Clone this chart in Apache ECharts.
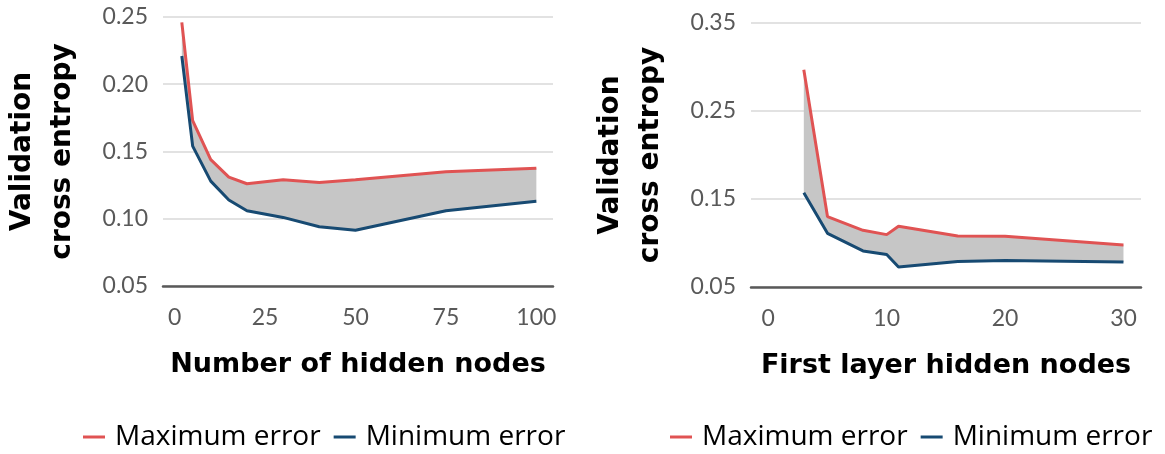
<!DOCTYPE html>
<html>
<head>
<meta charset="utf-8">
<script src="https://cdn.jsdelivr.net/npm/echarts@6/dist/echarts.min.js"></script>
<style>
html,body{margin:0;padding:0;background:#fff;}
#chart{width:1165px;height:454px;}
</style>
</head>
<body>
<div id="chart"></div>
<script>
// Left chart: number of hidden nodes
const leftNodes = [2, 5, 10, 15, 20, 30, 40, 50, 75, 100];
const leftMaxErr = [0.246, 0.173, 0.144, 0.131, 0.126, 0.129, 0.127, 0.129, 0.135, 0.1375];
const leftMinErr = [0.221, 0.154, 0.128, 0.114, 0.106, 0.101, 0.094, 0.0915, 0.106, 0.113];
const leftXTicks = [0, 25, 50, 75, 100];

// Right chart: first layer hidden nodes
const rightNodes = [3, 5, 8, 10, 11, 16, 20, 30];
const rightMaxErr = [0.297, 0.130, 0.1144, 0.1095, 0.119, 0.108, 0.1076, 0.0977];
const rightMinErr = [0.157, 0.111, 0.091, 0.087, 0.0727, 0.0789, 0.080, 0.0784];
const rightXTicks = [0, 10, 20, 30];

const seriesNames = ['Maximum error', 'Minimum error'];
const yTitle = 'Validation\ncross entropy';
const leftXTitle = 'Number of hidden nodes';
const rightXTitle = 'First layer hidden nodes';

const RED = '#E05353';
const BLUE = '#174A72';
const BAND = '#C6C6C6';
const TICK_FONT = 'Lato';
const TITLE_FONT = 'DejaVu Sans';
const LEGEND_FONT = 'Open Sans';

function pairs(xs, ys) { return xs.map((x, i) => [x, ys[i]]); }

function makeSeries(idx, xs, maxArr, minArr) {
  return [
    {
      name: 'range' + idx, type: 'custom', xAxisIndex: idx, yAxisIndex: idx,
      silent: true, z: 1,
      data: [[xs[0], maxArr[0]]],
      renderItem: function (params, api) {
        const pts = [];
        for (let i = 0; i < xs.length; i++) pts.push(api.coord([xs[i], maxArr[i]]));
        for (let i = xs.length - 1; i >= 0; i--) pts.push(api.coord([xs[i], minArr[i]]));
        return { type: 'polygon', shape: { points: pts }, style: { fill: BAND } };
      }
    },
    {
      name: seriesNames[0], type: 'line', xAxisIndex: idx, yAxisIndex: idx, z: 3,
      data: pairs(xs, maxArr), symbol: 'none', color: RED,
      lineStyle: { color: RED, width: 3 }
    },
    {
      name: seriesNames[1], type: 'line', xAxisIndex: idx, yAxisIndex: idx, z: 3,
      data: pairs(xs, minArr), symbol: 'none', color: BLUE,
      lineStyle: { color: BLUE, width: 3 }
    }
  ];
}

function xAxis(idx, min, max, ticks, title) {
  return {
    type: 'value', gridIndex: idx, min: min, max: max,
    axisLine: { show: true, lineStyle: { color: '#595959', width: 2.5 } },
    axisTick: { show: false },
    splitLine: { show: false },
    axisLabel: {
      customValues: ticks, color: '#595959', fontFamily: TICK_FONT, fontSize: 23, margin: 20
    },
    name: title, nameLocation: 'middle', nameGap: 65,
    nameTextStyle: { color: '#000', fontFamily: TITLE_FONT, fontWeight: 'bold', fontSize: 27 }
  };
}

function yAxis(idx, min, max, interval) {
  return {
    type: 'value', gridIndex: idx, min: min, max: max, interval: interval,
    axisLine: { show: false }, axisTick: { show: false },
    splitLine: { show: true, lineStyle: { color: '#D9D9D9', width: 1.5 } },
    axisLabel: {
      color: '#595959', fontFamily: TICK_FONT, fontSize: 23, margin: 15,
      formatter: v => v.toFixed(2)
    },
    name: yTitle, nameLocation: 'middle', nameRotate: 90, nameGap: 80,
    nameTextStyle: { color: '#000', fontFamily: TITLE_FONT, fontWeight: 'bold', fontSize: 28, lineHeight: 40 }
  };
}

function legend(left) {
  return {
    data: seriesNames, left: left, top: 423, padding: 0,
    icon: 'rect', itemWidth: 22, itemHeight: 3, itemGap: 13,
    textStyle: { color: '#000', fontFamily: LEGEND_FONT, fontSize: 28, padding: [0, 0, 0, 5] },
    selectedMode: false
  };
}

const chart = echarts.init(document.getElementById('chart'), null, { renderer: 'canvas' });
chart.setOption({
  animation: false,
  backgroundColor: '#fff',
  grid: [
    { left: 163, top: 17, width: 390, height: 269 },
    { left: 751, top: 23, width: 390, height: 264 }
  ],
  xAxis: [
    xAxis(0, -3.2, 104.6, leftXTicks, leftXTitle),
    xAxis(1, -1.46, 31.48, rightXTicks, rightXTitle)
  ],
  yAxis: [
    yAxis(0, 0.05, 0.25, 0.05),
    yAxis(1, 0.05, 0.35, 0.1)
  ],
  legend: [legend(83), legend(670)],
  series: [].concat(
    makeSeries(0, leftNodes, leftMaxErr, leftMinErr),
    makeSeries(1, rightNodes, rightMaxErr, rightMinErr)
  )
});
</script>
</body>
</html>
